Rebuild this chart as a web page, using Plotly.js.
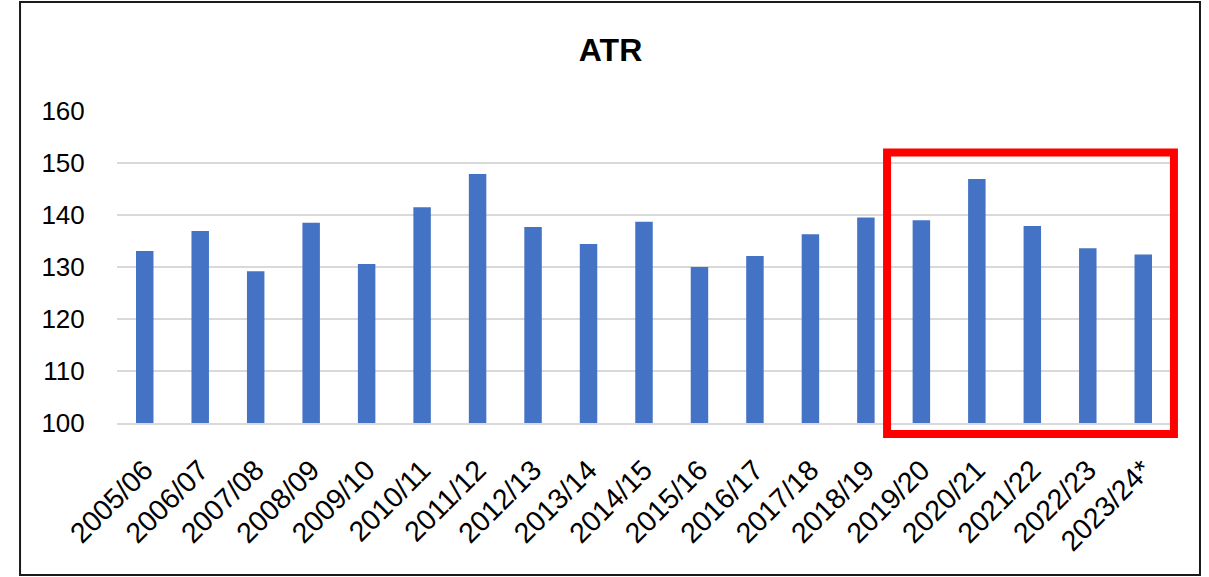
<!DOCTYPE html>
<html>
<head>
<meta charset="utf-8">
<script src="https://cdn.plot.ly/plotly-3.0.1.min.js"></script>
<style>
  html, body { margin: 0; padding: 0; background: #ffffff; }
  #chart { width: 1209px; height: 577px; }
</style>
</head>
<body>
<div id="chart"></div>
<script>
const seasons = ["2005/06","2006/07","2007/08","2008/09","2009/10","2010/11","2011/12","2012/13","2013/14","2014/15","2015/16","2016/17","2017/18","2018/19","2019/20","2020/21","2021/22","2022/23","2023/24*"];
const atrValues = [133.1, 136.9, 129.2, 138.5, 130.6, 141.5, 147.9, 137.7, 134.4, 138.7, 130.0, 132.1, 136.3, 139.5, 139.0, 146.9, 137.9, 133.6, 132.4];
const yTicks = [100, 110, 120, 130, 140, 150, 160];
const chartTitle = "ATR";

const FONT = "Liberation Sans, Arial, sans-serif";

const trace = {
  type: "bar",
  x: seasons,
  y: atrValues.map(v => v - 100),
  base: 100,
  customdata: atrValues,
  hovertemplate: "%{x}: %{customdata}<extra></extra>",
  marker: { color: "#4472C4" }
};

const layout = {
  width: 1209,
  height: 577,
  margin: { l: 117, r: 38, t: 111, b: 154 },
  paper_bgcolor: "#ffffff",
  plot_bgcolor: "#ffffff",
  showlegend: false,
  bargap: 0.685,
  title: {
    text: "<b>" + chartTitle + "</b>",
    font: { family: FONT, size: 32, color: "#000000" },
    x: 0.505, xref: "container", xanchor: "center",
    y: 0.913, yref: "container", yanchor: "middle"
  },
  xaxis: {
    type: "category",
    tickangle: -45,
    tickfont: { family: FONT, size: 28.5, color: "#000000" },
    showgrid: false,
    showline: true,
    linecolor: "#d9d9d9",
    linewidth: 2,
    ticks: "outside",
    ticklen: 17,
    tickcolor: "rgba(0,0,0,0)",
    automargin: false,
    fixedrange: true
  },
  yaxis: {
    range: [100, 160],
    tickvals: yTicks,
    ticktext: yTicks.map(String),
    tickfont: { family: FONT, size: 26, color: "#000000" },
    showgrid: true,
    gridcolor: "#d9d9d9",
    gridwidth: 1.5,
    zeroline: false,
    showline: false,
    ticks: "outside",
    ticklen: 26,
    tickcolor: "rgba(0,0,0,0)",
    fixedrange: true
  },
  shapes: [
    {
      type: "rect", xref: "paper", yref: "paper",
      x0: -0.0920, x1: 1.0275, y0: -0.487, y1: 1.349,
      line: { color: "#1a1a1a", width: 2 },
      fillcolor: "rgba(0,0,0,0)",
      layer: "above"
    },
    {
      type: "rect", xref: "paper", yref: "paper",
      x0: 0.7306, x1: 1.0028, y0: -0.0353, y1: 0.867,
      line: { color: "#ff0000", width: 8 },
      fillcolor: "rgba(0,0,0,0)",
      layer: "above"
    }
  ]
};

Plotly.newPlot("chart", [trace], layout, { displayModeBar: false, staticPlot: true });
</script>
</body>
</html>
